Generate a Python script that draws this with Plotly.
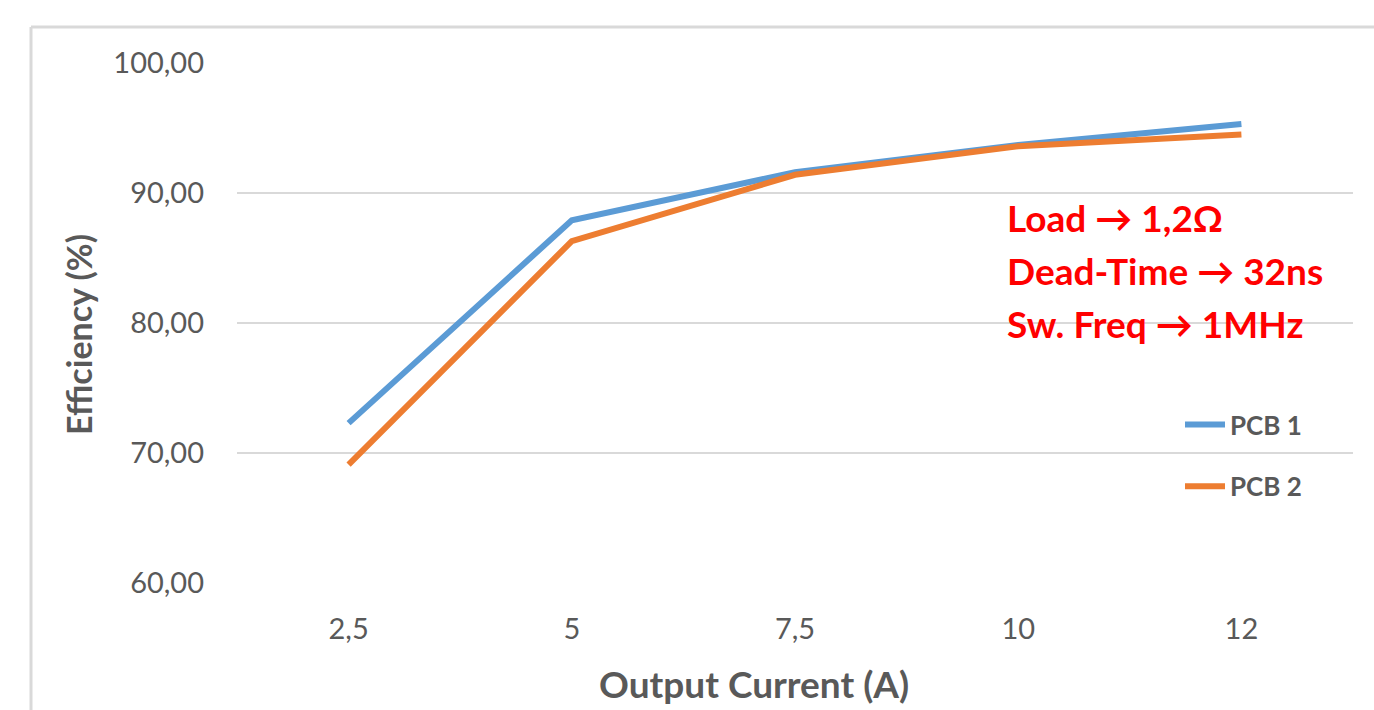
import plotly.graph_objects as go

categories = ["2,5", "5", "7,5", "10", "12"]
pcb1 = [72.3, 87.9, 91.6, 93.7, 95.3]
pcb2 = [69.1, 86.3, 91.4, 93.6, 94.5]
series_names = ["PCB 1", "PCB 2"]
series_colors = ["#5b9bd5", "#ed7d31"]
y_ticks = [60, 70, 80, 90, 100]
notes = ["Load → 1,2Ω", "Dead-Time → 32ns", "Sw. Freq → 1MHz"]
note_y = [88.1, 84.05, 80.0]
x_title = "Output Current (A)"
y_title = "Efficiency (%)"

FONT = "Lato"
GREY = "#595959"
W, H = 1374, 710
ML, MR, MT, MB = 237, 21, 63, 127
PW, PH = W - ML - MR, H - MT - MB

fig = go.Figure()
for i, (name, vals) in enumerate(zip(series_names, [pcb1, pcb2])):
    fig.add_trace(go.Scatter(
        x=categories, y=vals, mode="lines", name=name,
        legendgroup=f"g{i}",
        line=dict(color=series_colors[i], width=6),
    ))

for txt, yy in zip(notes, note_y):
    fig.add_annotation(
        text=txt, xref="paper", yref="y", x=(1005 - ML) / PW, y=yy,
        xanchor="left", yanchor="middle", showarrow=False,
        font=dict(family=FONT, size=37, color="#ff0000", weight="bold"),
    )

# axis titles placed as in the reference (offset from plot centre)
fig.add_annotation(
    text=x_title, xref="paper", yref="paper",
    x=(754 - ML) / PW, y=-(683 - (H - MB)) / PH,
    xanchor="center", yanchor="middle", showarrow=False,
    font=dict(family=FONT, size=37, color=GREY, weight="bold"),
)
fig.add_annotation(
    text=y_title, xref="paper", yref="paper", textangle=-90,
    x=(79 - ML) / PW, y=((H - MB) - 335) / PH,
    xanchor="center", yanchor="middle", showarrow=False,
    font=dict(family=FONT, size=34, color=GREY, weight="bold"),
)

# outer chart-area frame (left and top edges visible)
fx = (31 - ML) / PW
fy = (H - MB - 27) / PH
fig.add_shape(type="line", xref="paper", yref="paper", x0=fx, x1=fx, y0=fy, y1=-1,
              line=dict(color="#d9d9d9", width=3))
fig.add_shape(type="line", xref="paper", yref="paper", x0=fx, x1=2, y0=fy, y1=fy,
              line=dict(color="#d9d9d9", width=3))

fig.update_layout(
    width=W, height=H,
    margin=dict(l=ML, r=MR, t=MT, b=MB),
    paper_bgcolor="white", plot_bgcolor="white",
    separators=",.",
    font=dict(family=FONT, color=GREY),
    showlegend=True,
    legend=dict(
        x=(1180 - ML) / PW, y=(H - MB - 401) / PH, xanchor="left", yanchor="top",
        font=dict(family=FONT, size=26, color=GREY, weight="bold"),
        tracegroupgap=25, itemwidth=40, bgcolor="rgba(0,0,0,0)",
    ),
    xaxis=dict(
        type="category", range=[-0.5, 4.5],
        showgrid=False, zeroline=False, showline=False,
        ticks="", tickfont=dict(size=29, color=GREY),
        ticklabelstandoff=26,
    ),
    yaxis=dict(
        range=[60, 100], tickvals=y_ticks, tickformat=".2f",
        showgrid=True, gridcolor="#d9d9d9", gridwidth=2, zeroline=False,
        showline=False, ticks="", tickfont=dict(size=29, color=GREY),
        ticklabelstandoff=32,
    ),
)

fig.write_html("out.html")
